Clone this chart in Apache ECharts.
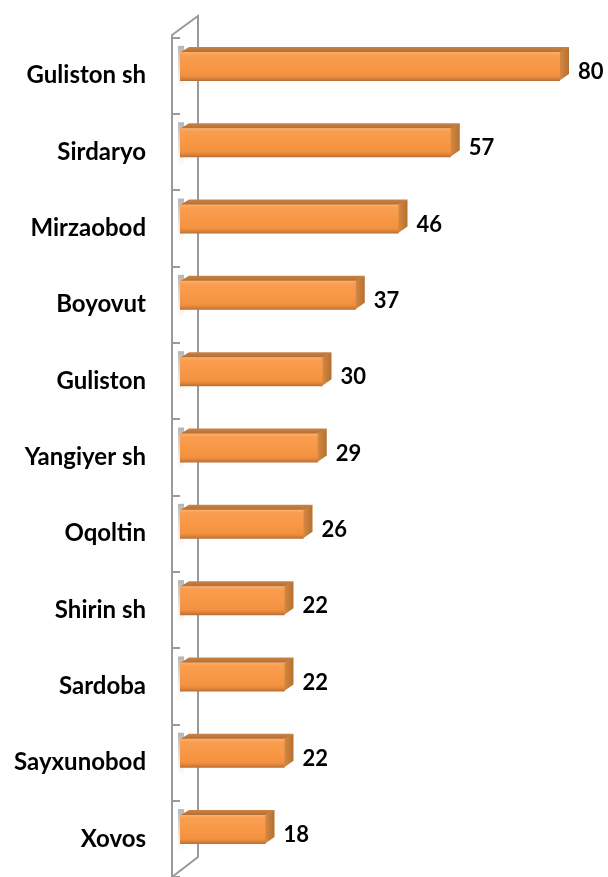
<!DOCTYPE html>
<html>
<head>
<meta charset="utf-8">
<script src="https://cdn.jsdelivr.net/npm/echarts@6/dist/echarts.min.js"></script>
<style>
html,body{margin:0;padding:0;background:#fff;}
#c{width:608px;height:877px;}
</style>
</head>
<body>
<div id="c"></div>
<script>
const categories = ['Guliston sh','Sirdaryo','Mirzaobod','Boyovut','Guliston','Yangiyer sh','Oqoltin','Shirin sh','Sardoba','Sayxunobod','Xovos'];
const values = [80, 57, 46, 37, 30, 29, 26, 22, 22, 22, 18];

const chart = echarts.init(document.getElementById('c'), null, {renderer:'canvas'});

const FONT = 'Lato, "Open Sans", "Liberation Sans", sans-serif';

function renderBar(params, api) {
  const idx = api.value(1);
  const p0 = api.coord([0, idx]);
  const p1 = api.coord([api.value(0), idx]);
  const cy = p0[1] - 9.25;
  const h = 29, dx = 9, dy = 5;
  const x0 = p0[0], x1 = p1[0];
  const top = cy - h / 2, bottom = cy + h / 2;
  return {
    type: 'group',
    children: [
      {
        type: 'rect',
        shape: {x: x0 - 2, y: top - 6, width: 6, height: h + 14},
        style: {
          fill: new echarts.graphic.LinearGradient(0, 0, 0, 1, [
            {offset: 0, color: 'rgba(120,120,120,0.55)'},
            {offset: 0.5, color: 'rgba(150,150,150,0.3)'},
            {offset: 1, color: 'rgba(160,160,160,0.0)'}
          ])
        },
        silent: true
      },
      {
        type: 'polygon',
        shape: {points: [[x0, top + 0.5], [x0 + dx, top - dy], [x1 + dx, top - dy], [x1, top + 0.5]]},
        style: {
          fill: new echarts.graphic.LinearGradient(0, 0, 0, 1, [
            {offset: 0, color: '#c98347'},
            {offset: 1, color: '#b56c31'}
          ])
        }
      },
      {
        type: 'polygon',
        shape: {points: [[x1 - 1, top], [x1 + dx, top - dy], [x1 + dx, bottom - dy - 2], [x1 - 1, bottom]]},
        style: {
          fill: new echarts.graphic.LinearGradient(0, 0, 1, 0, [
            {offset: 0, color: '#d88a45'},
            {offset: 1, color: '#b5702f'}
          ])
        }
      },
      {
        type: 'rect',
        shape: {x: x0, y: top, width: x1 - x0, height: h},
        style: {
          fill: new echarts.graphic.LinearGradient(0, 0, 0, 1, [
            {offset: 0, color: '#fbb06a'},
            {offset: 0.12, color: '#f99d50'},
            {offset: 0.5, color: '#f89846'},
            {offset: 0.82, color: '#f2913f'},
            {offset: 0.9, color: '#de843b'},
            {offset: 1, color: '#b86e34'}
          ])
        }
      },
      {
        type: 'text',
        style: {
          x: x1 + 18, y: cy + 5.5,
          text: String(api.value(0)),
          fill: '#000',
          font: 'bold 22px ' + FONT,
          align: 'left', verticalAlign: 'middle'
        }
      }
    ]
  };
}

const option = {
  backgroundColor: '#ffffff',
  animation: false,
  grid: {left: 180, right: 48, top: 37.5, height: 841.5, containLabel: false},
  xAxis: {
    type: 'value', min: 0, max: 80,
    show: false
  },
  yAxis: {
    type: 'category',
    data: categories,
    inverse: true,
    offset: 8,
    axisLine: {show: false},
    axisTick: {show: true, length: 8, lineStyle: {color: '#9a9a9a', width: 2}},
    axisLabel: {
      margin: 26,
      color: '#000',
      fontSize: 24,
      fontWeight: 'bold',
      fontFamily: FONT
    },
    splitLine: {show: false}
  },
  graphic: [
    {
      type: 'polygon', z: 0, silent: true,
      shape: {points: [[172, 35], [198, 16], [198, 857], [172, 877]]},
      style: {fill: '#ffffff', stroke: '#9a9a9a', lineWidth: 2}
    }
  ],
  series: [{
    type: 'custom',
    renderItem: renderBar,
    encode: {x: 0, y: 1},
    data: values.map((v, i) => [v, i]),
    z: 5
  }]
};
chart.setOption(option);
</script>
</body>
</html>
